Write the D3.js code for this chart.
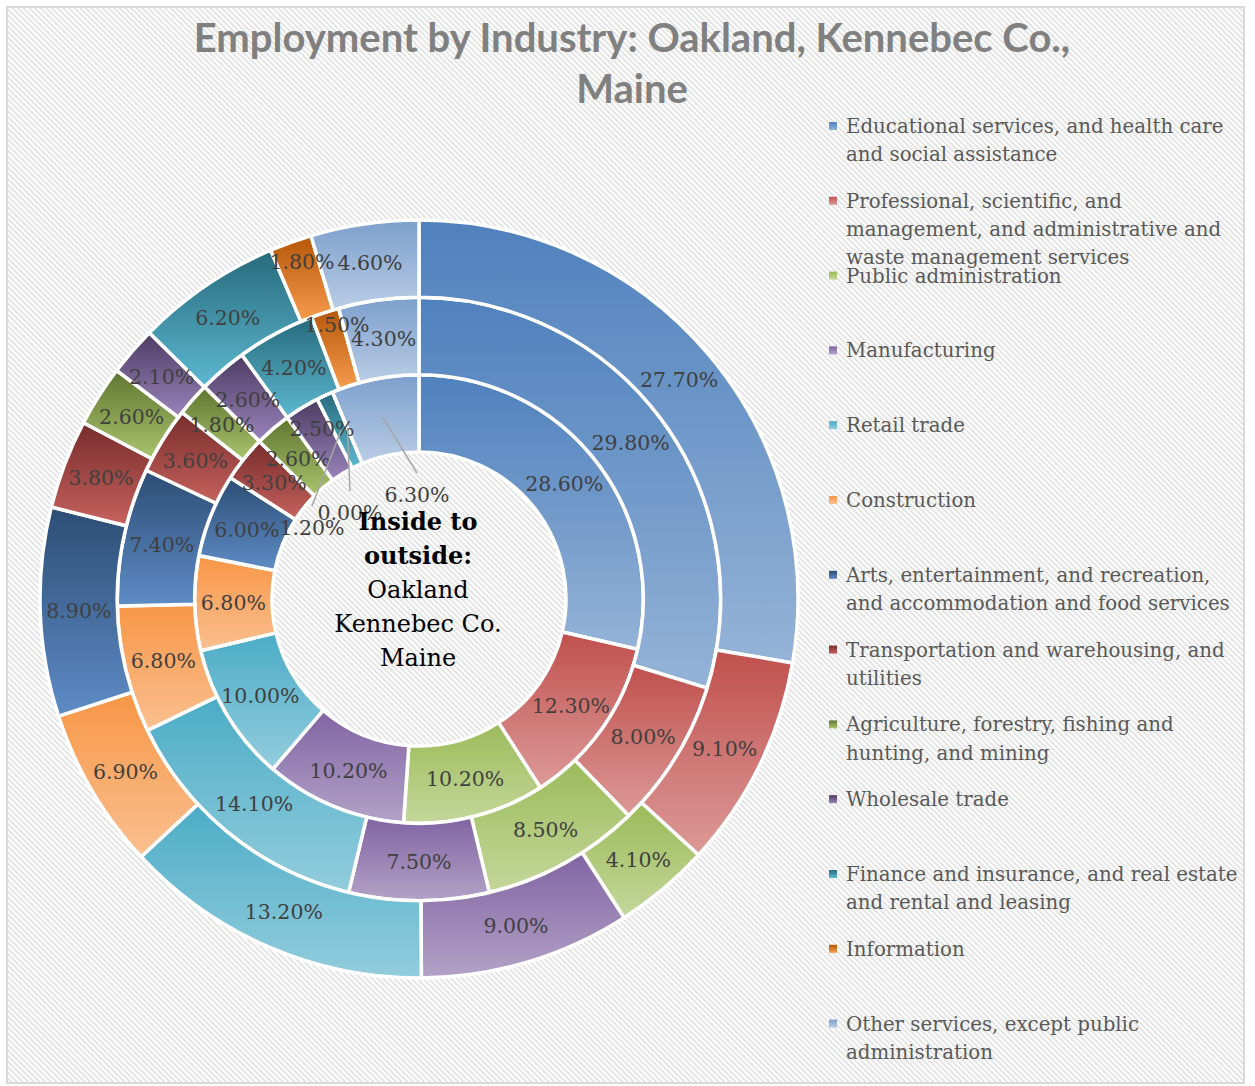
<!DOCTYPE html>
<html>
<head>
<meta charset="utf-8">
<script src="https://cdn.jsdelivr.net/npm/d3@7"></script>
<style>
  body { margin: 0; background: #fff; }
  svg { display: block; }
</style>
</head>
<body>
<script>
// categories (legend order = slice order, clockwise from 12 o'clock)
const industries = [
  "Educational services, and health care and social assistance",
  "Professional, scientific, and management, and administrative and waste management services",
  "Public administration",
  "Manufacturing",
  "Retail trade",
  "Construction",
  "Arts, entertainment, and recreation, and accommodation and food services",
  "Transportation and warehousing, and utilities",
  "Agriculture, forestry, fishing and hunting, and mining",
  "Wholesale trade",
  "Finance and insurance, and real estate and rental and leasing",
  "Information",
  "Other services, except public administration"
];
// legend text as it wraps in the original
const legendLines = [
  ["Educational services, and health care", "and social assistance"],
  ["Professional, scientific, and", "management, and administrative and", "waste management services"],
  ["Public administration"],
  ["Manufacturing"],
  ["Retail trade"],
  ["Construction"],
  ["Arts, entertainment, and recreation,", "and accommodation and food services"],
  ["Transportation and warehousing, and", "utilities"],
  ["Agriculture, forestry, fishing and", "hunting, and mining"],
  ["Wholesale trade"],
  ["Finance and insurance, and real estate", "and rental and leasing"],
  ["Information"],
  ["Other services, except public", "administration"]
];

// percent of employed, inside ring to outside ring
const oakland  = [28.6, 12.3, 10.2, 10.2, 10.0, 6.8, 6.0, 3.3, 2.6, 2.5, 1.2, 0.0, 6.3];
const kennebec = [29.8,  8.0,  8.5,  7.5, 14.1, 6.8, 7.4, 3.6, 1.8, 2.6, 4.2, 1.5, 4.3];
const maine    = [27.7,  9.1,  4.1,  9.0, 13.2, 6.9, 8.9, 3.8, 2.6, 2.1, 6.2, 1.8, 4.6];
const ringNames = ["Oakland", "Kennebec Co.", "Maine"];

const titleLines = ["Employment by Industry: Oakland, Kennebec Co.,", "Maine"];
const centerBold = ["Inside to", "outside:"];

// slice colours: top of gradient / bottom of gradient
const topColors = ["#4f81bd", "#c0504d", "#9bbb59", "#8064a2", "#4bacc6", "#f79646",
                   "#2c4d75", "#772c2a", "#5f7530", "#4d3b62", "#276a7c", "#b65708", "#7c9fcc"];
const botColors = ["#95b3d7", "#dc9a98", "#c4d79b", "#b3a2c7", "#93cddd", "#fac090",
                   "#5e8cc6", "#c6625e", "#a9c46d", "#9a84bb", "#5cb8d0", "#f79b4c", "#bacde5"];

const width = 1255;
const height = 1086;
const cx = 419, cy = 599;

// a few labels Excel moved off the centroid (ring-slice -> offset from centre)
const movedLabels = {
  "0-9":  { dx: -97, dy: -170, leader: false },
  "0-10": { dx: -107, dy: -71, leader: true },
  "0-11": { dx: -69, dy: -86, leader: true },
  "0-12": { dx: -2, dy: -104, leader: true },
  "1-11": { dx: -82, dy: -274, leader: false },
  "2-11": { dx: -117, dy: -337, leader: false }
};

const svg = d3.select("body")
  .append("svg")
    .attr("width", width)
    .attr("height", height);

const defs = svg.append("defs");

// striped chart-area fill
let pattern = defs.append("pattern")
  .attr("id", "stripes")
  .attr("patternUnits", "userSpaceOnUse")
  .attr("width", 4)
  .attr("height", 4)
  .attr("patternTransform", "rotate(45)");
pattern.append("rect").attr("width", 4).attr("height", 4).attr("fill", "#ffffff");
pattern.append("rect").attr("width", 4).attr("height", 2).attr("fill", "#e4e4e4");

topColors.forEach((c, i) => {
  let grad = defs.append("linearGradient")
    .attr("id", "grad" + i)
    .attr("x1", 0).attr("y1", 0)
    .attr("x2", 0).attr("y2", 1);
  grad.append("stop").attr("offset", "0%").attr("stop-color", c);
  grad.append("stop").attr("offset", "100%").attr("stop-color", botColors[i]);
});

svg.append("rect")
  .attr("width", width)
  .attr("height", height)
  .attr("fill", "#fff");

svg.append("rect")
  .attr("x", 7).attr("y", 7)
  .attr("width", 1237).attr("height", 1076)
  .attr("fill", "url(#stripes)")
  .attr("stroke", "#d9d9d9")
  .attr("stroke-width", 2);

// TITLE
svg.append("g")
  .selectAll("text")
  .data(titleLines)
  .join("text")
    .attr("x", 632)
    .attr("y", (d, i) => 52 + i * 51)
    .attr("text-anchor", "middle")
    .attr("font-family", "Lato, 'Open Sans', sans-serif")
    .attr("font-weight", "bold")
    .attr("font-size", 40)
    .attr("fill", "#808080")
    .text(d => d);

// RINGS
const rings = [oakland, kennebec, maine];
const radius = d3.scaleLinear().domain([0, rings.length]).range([147, 379]);
const pie = d3.pie().sort(null).value(d => d);

const chart = svg.append("g")
  .attr("transform", `translate(${cx},${cy})`);

const labelLayer = chart.append("g");

rings.forEach((values, r) => {
  const arc = d3.arc()
    .innerRadius(radius(r))
    .outerRadius(radius(r + 1));

  const slices = pie(values);

  chart.insert("g", () => labelLayer.node())
    .attr("class", "ring ring-" + ringNames[r])
    .selectAll("path")
    .data(slices)
    .join("path")
      .attr("d", arc)
      .attr("fill", (d, i) => `url(#grad${i})`)
      .attr("stroke", "#fff")
      .attr("stroke-width", 3.5);

  slices.forEach((d, i) => {
    const c = arc.centroid(d);
    const moved = movedLabels[r + "-" + i];
    let x = c[0], y = c[1];
    if (moved) {
      x = moved.dx;
      y = moved.dy;
      if (moved.leader) {
        labelLayer.append("line")
          .attr("x1", c[0]).attr("y1", c[1])
          .attr("x2", x).attr("y2", y - 22)
          .attr("stroke", "#a6a6a6")
          .attr("stroke-width", 1.5);
      }
    }
    labelLayer.append("text")
      .attr("x", x)
      .attr("y", y)
      .attr("dy", "0.36em")
      .attr("text-anchor", "middle")
      .attr("font-family", "'DejaVu Serif', serif")
      .attr("font-size", 20.5)
      .attr("fill", "#404040")
      .text(d3.format(".2f")(d.data) + "%");
  });
});

// CENTRE TEXT
const centre = svg.append("g")
  .attr("font-family", "'DejaVu Serif', serif")
  .attr("font-size", 24)
  .attr("fill", "#000")
  .attr("text-anchor", "middle");

centre.selectAll("text")
  .data(centerBold.concat(ringNames))
  .join("text")
    .attr("x", 418)
    .attr("y", (d, i) => 530 + i * 34)
    .attr("font-weight", (d, i) => i < centerBold.length ? "bold" : "normal")
    .text(d => d);

// LEGEND
const legend = svg.append("g")
  .attr("id", "legend");

const legendItem = legend.selectAll("g")
  .data(legendLines)
  .join("g")
    .attr("transform", (d, i) => `translate(829,${133 + i * 74.8})`);

legendItem.append("rect")
  .attr("x", 0)
  .attr("y", -11)
  .attr("width", 8)
  .attr("height", 8)
  .attr("fill", (d, i) => `url(#grad${i})`);

legendItem.selectAll("text")
  .data(d => d)
  .join("text")
    .attr("x", 17)
    .attr("y", (d, k) => k * 28.2)
    .attr("font-family", "'DejaVu Serif', serif")
    .attr("font-size", 19.8)
    .attr("fill", "#595959")
    .text(d => d);
</script>
</body>
</html>
